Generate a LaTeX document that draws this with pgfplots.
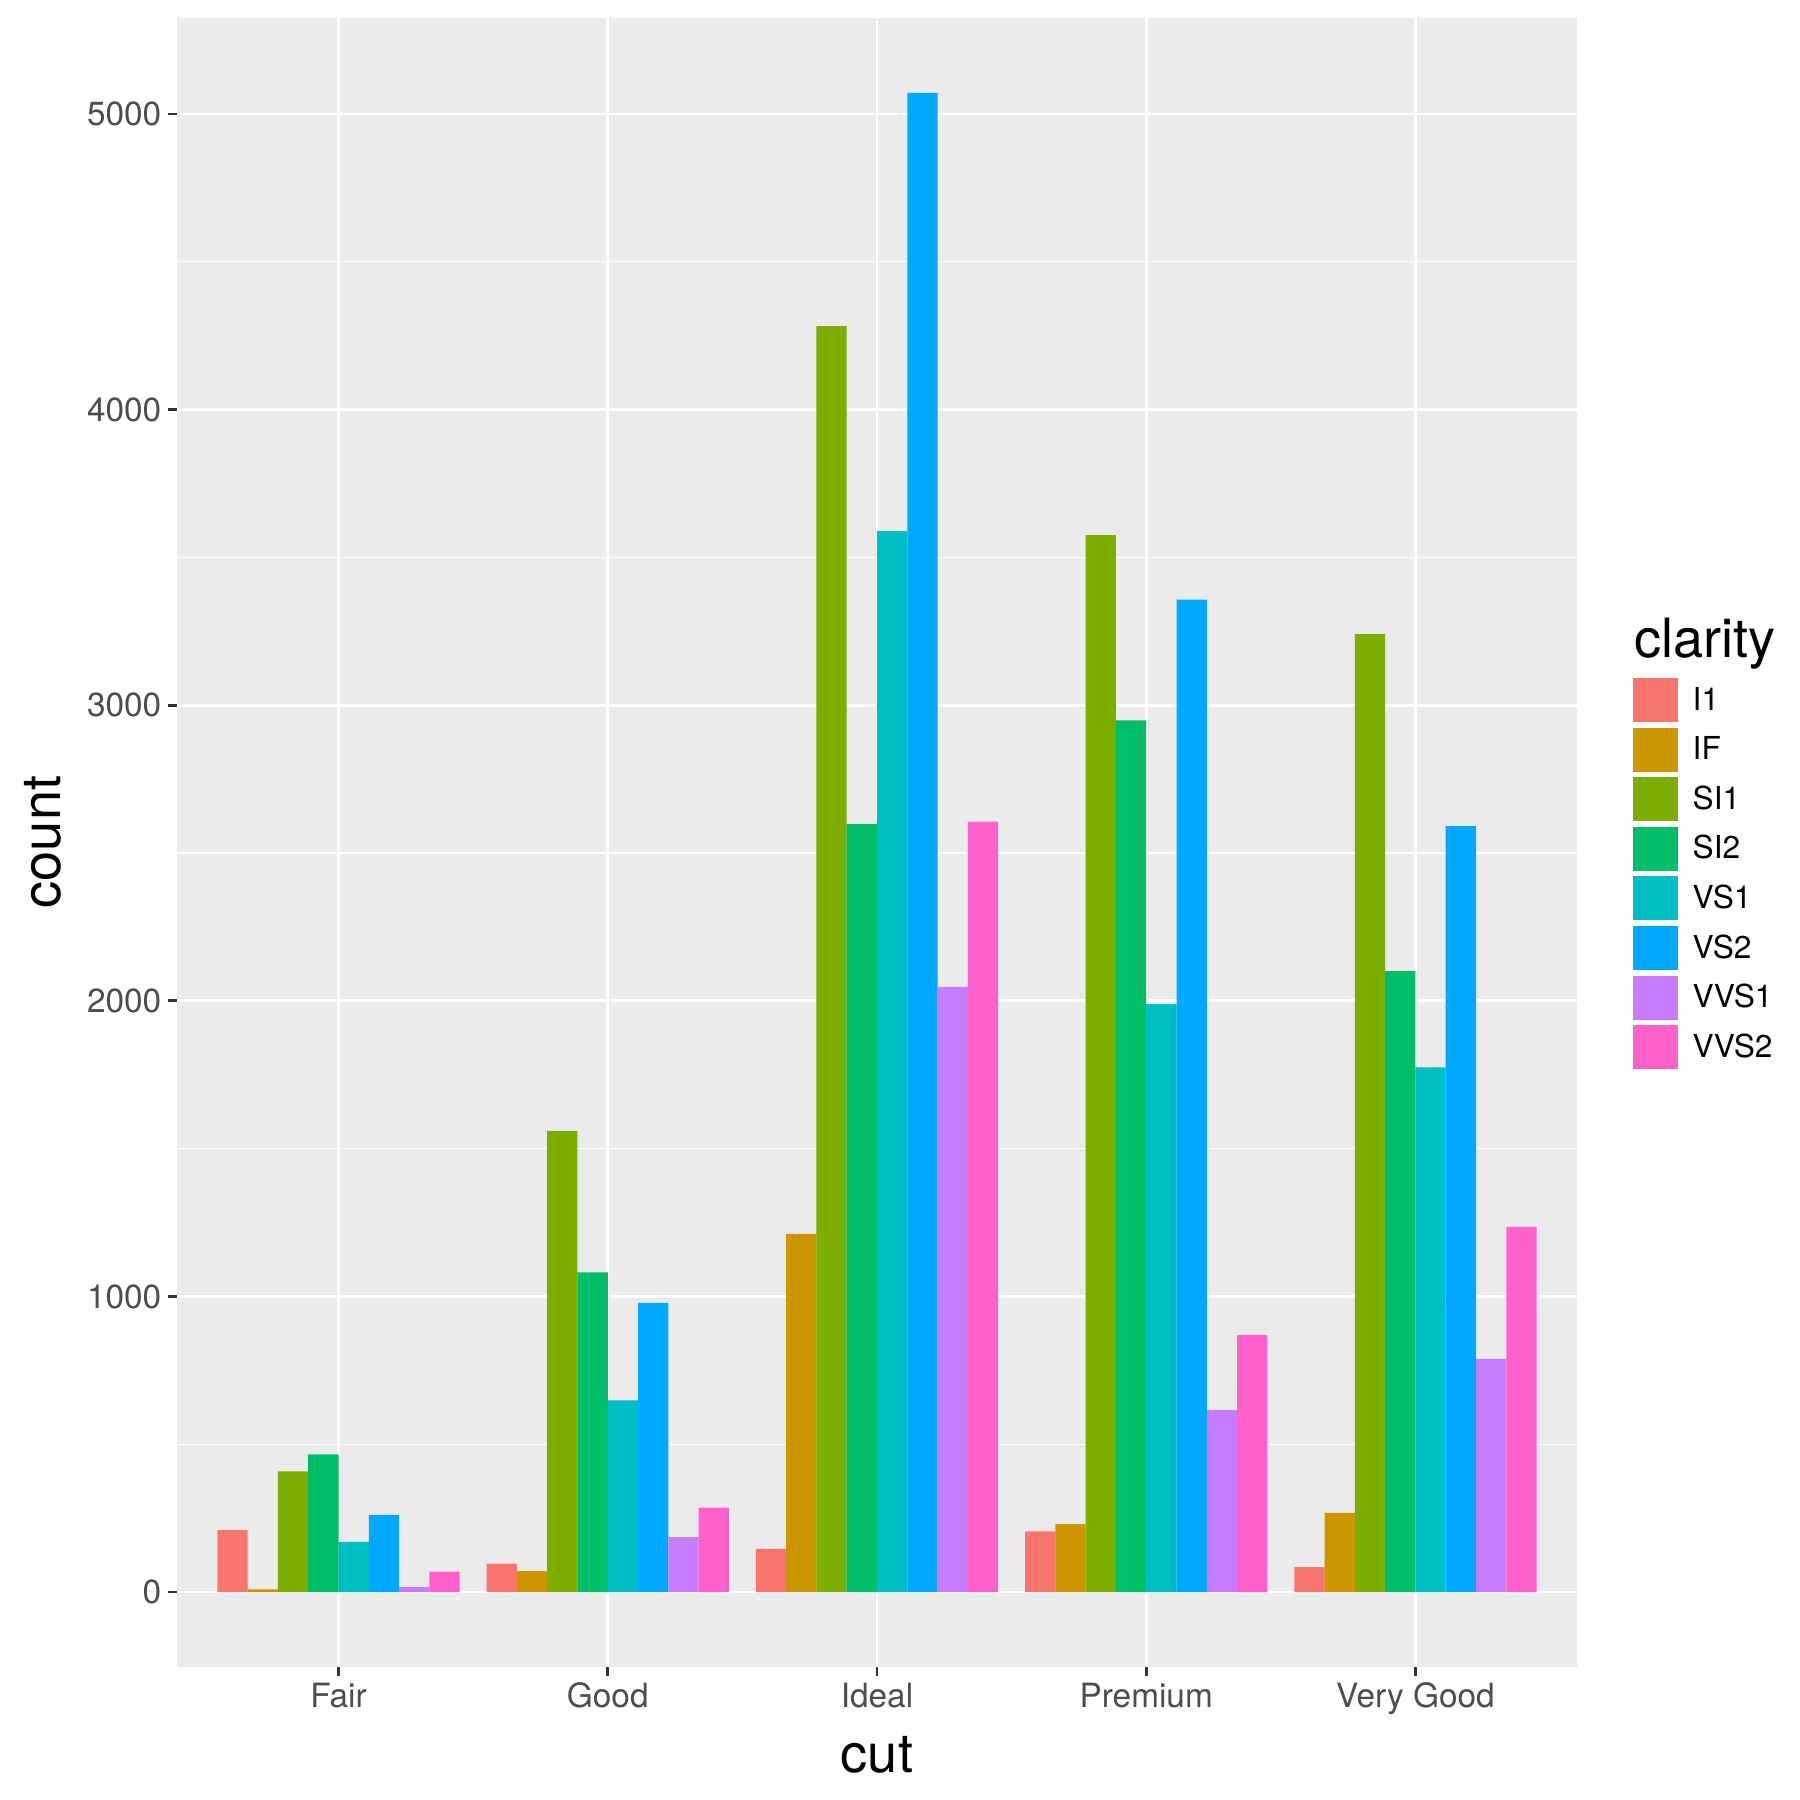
\documentclass[border=0pt]{standalone}
\usepackage{pgfplots}
\pgfplotsset{compat=1.18}
\usepackage{fontspec}
\setmainfont{TeX Gyre Heros}
\definecolor{cI1}{HTML}{F8766D}
\definecolor{cIF}{HTML}{CD9600}
\definecolor{cSI1}{HTML}{7CAE00}
\definecolor{cSI2}{HTML}{00BE67}
\definecolor{cVS1}{HTML}{00BFC4}
\definecolor{cVS2}{HTML}{00A9FF}
\definecolor{cVVS1}{HTML}{C77CFF}
\definecolor{cVVS2}{HTML}{FF61CC}
\definecolor{panelbg}{HTML}{EBEBEB}
\definecolor{ticktext}{HTML}{4D4D4D}
\definecolor{tickcol}{HTML}{333333}
\begin{document}
\begin{tikzpicture}
\path[use as bounding box] (0,0) rectangle (180mm,180mm);
\begin{axis}[
  at={(17.7mm,178.2mm)}, anchor=north west,
  scale only axis, width=140.0mm, height=164.9mm,
  xmin=-0.6, xmax=4.6, ymin=-253.55, ymax=5324.55,
  axis background/.style={fill=panelbg},
  axis line style={draw=none},
  ybar, bar width=0.1125,
  xtick={0,1,2,3,4},
  xticklabels={Fair,Good,Ideal,Premium,Very Good},
  ytick={0,1000,2000,3000,4000,5000},
  minor ytick={500,1500,2500,3500,4500},
  grid=both,
  major grid style={white, line width=0.75pt},
  minor grid style={white, line width=0.38pt},
  tick align=outside, tick pos=left,
  major tick length=0.9mm, minor tick length=0pt,
  tick style={tickcol, line width=0.75pt},
  /pgf/number format/assume math mode=true,
  scaled y ticks=false,
  yticklabel={\pgfmathprintnumber[fixed,1000 sep={}]{\tick}},
  yticklabel style={font=\fontsize{9.5}{11}\selectfont, text=ticktext, anchor=east, inner sep=0pt, xshift=-0.6mm},
  xticklabel style={font=\fontsize{9.5}{11}\selectfont, text=ticktext, anchor=north, inner sep=0pt, yshift=-0.6mm},
  every axis plot/.append style={draw=none, bar shift=0pt},
]
\addplot[fill=cI1] coordinates {(-0.39375,210) (0.60625,96) (1.60625,146) (2.60625,205) (3.60625,84)};
\addplot[fill=cIF] coordinates {(-0.28125,9) (0.71875,71) (1.71875,1212) (2.71875,230) (3.71875,268)};
\addplot[fill=cSI1] coordinates {(-0.16875,408) (0.83125,1560) (1.83125,4282) (2.83125,3575) (3.83125,3240)};
\addplot[fill=cSI2] coordinates {(-0.05625,466) (0.94375,1081) (1.94375,2598) (2.94375,2949) (3.94375,2100)};
\addplot[fill=cVS1] coordinates {(0.05625,170) (1.05625,648) (2.05625,3589) (3.05625,1989) (4.05625,1775)};
\addplot[fill=cVS2] coordinates {(0.16875,261) (1.16875,978) (2.16875,5071) (3.16875,3357) (4.16875,2591)};
\addplot[fill=cVVS1] coordinates {(0.28125,17) (1.28125,186) (2.28125,2047) (3.28125,616) (4.28125,789)};
\addplot[fill=cVVS2] coordinates {(0.39375,69) (1.39375,286) (2.39375,2606) (3.39375,870) (4.39375,1235)};
\end{axis}
\begin{scope}[x=0.1mm,y=-0.1mm,shift={(0,180mm)}]
\node[anchor=base, inner sep=0pt, font=\fontsize{15.4}{18}\selectfont] at (877,1772) {cut};
\node[anchor=base, inner sep=0pt, rotate=90, font=\fontsize{15.4}{18}\selectfont] at (60,842) {count};
\node[anchor=base west, inner sep=0pt, font=\fontsize{15.4}{18}\selectfont] at (1634,658) {clarity};
\foreach \c/\t [count=\k from 0] in {cI1/I1,cIF/IF,cSI1/SI1,cSI2/SI2,cVS1/VS1,cVS2/VS2,cVVS1/VVS1,cVVS2/VVS2}{
  \fill[\c] (1633,{678+49.6*\k}) rectangle (1678,{722+49.6*\k});
  \node[anchor=base west, inner sep=0pt, font=\fontsize{9.0}{11}\selectfont] at (1692,{710+49.6*\k}) {\t};
}
\end{scope}
\end{tikzpicture}
\end{document}
